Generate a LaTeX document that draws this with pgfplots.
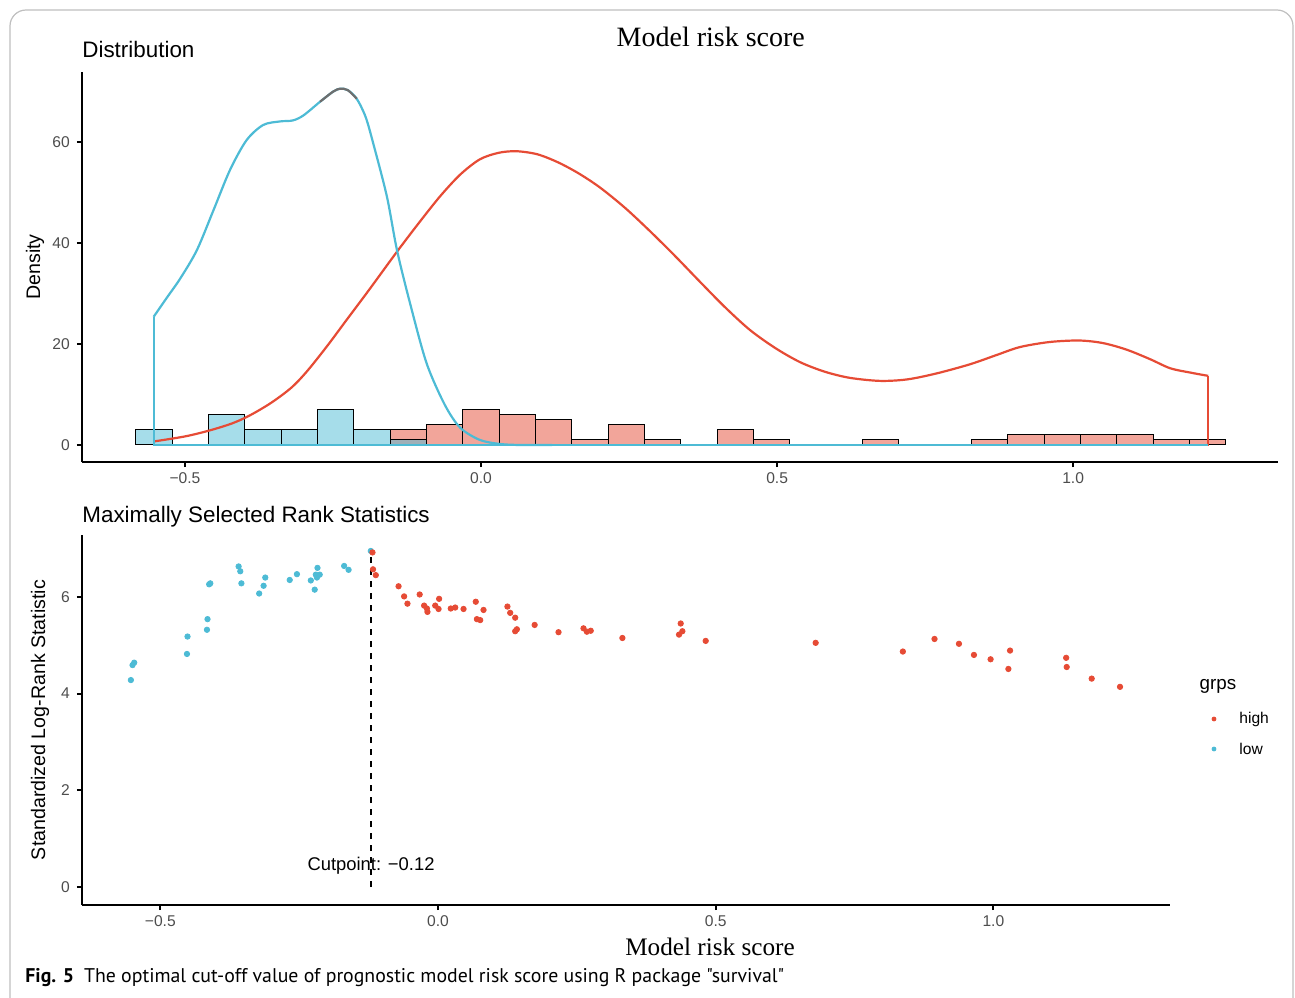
\documentclass[border=0pt]{standalone}
\usepackage{pgfplots}
\pgfplotsset{compat=1.18}
\usepackage{fontspec}
\setmainfont{Liberation Sans}
\newfontfamily\serifft{Liberation Serif}
\newfontfamily\capfont{PT Sans}
\definecolor{hired}{HTML}{E64B35}
\definecolor{lowblue}{HTML}{4DBBD5}
\definecolor{tickgrey}{HTML}{4D4D4D}
\definecolor{peakgrey}{HTML}{6E6E6E}

\pgfplotsset{
  ggclassic/.style={
    scale only axis,
    axis x line*=bottom, axis y line*=left,
    axis line style={line width=0.9bp, -},
    tick align=outside,
    major tick length=2.6bp,
    tick style={line width=0.9bp, black},
    ticklabel style={font=\fontsize{7.8bp}{9bp}\selectfont, text=tickgrey},
    /pgf/number format/assume math mode=true,
  }
}

\begin{document}
\begin{tikzpicture}
\useasboundingbox (0,0) rectangle (647.5bp,-499bp);
% rahmen
\draw[black!25, line width=0.6bp, rounded corners=8bp] (5bp,-499.5bp) -- (5bp,-5bp) -- (646.5bp,-5bp) -- (646.5bp,-499.5bp);

% ---- oben: Verteilung
\begin{axis}[ggclassic, at={(41bp,-231bp)}, anchor=south west,
    width=598bp, height=195bp,
    xmin=-0.674, xmax=1.346, ymin=-3.37, ymax=73.9,
    xtick={-0.5,0,0.5,1}, xticklabels={−0.5,0.0,0.5,1.0},
    ytick={0,20,40,60}, yticklabels={0,20,40,60},
    xticklabel style={yshift=0.8bp}]
% histogramm high
\addplot[ybar, bar width=0.06137, bar shift=0pt, draw=black, line width=0.5bp,
         fill=hired, fill opacity=0.5] coordinates {
  (-0.1227,3)(-0.0614,4)(0.0000,7)(0.0614,6)(0.1227,5)(0.1841,1)(0.2455,4)
  (0.3068,1)(0.4296,3)(0.4909,1)(0.6750,1)(0.8591,1)(0.9205,2)(0.9819,2)
  (1.0432,2)(1.1046,2)(1.1659,1)(1.2273,1)};
% histogramm low
\addplot[ybar, bar width=0.06137, bar shift=0pt, draw=black, line width=0.5bp,
         fill=lowblue, fill opacity=0.5] coordinates {
  (-0.5523,3)(-0.4296,6)(-0.3682,3)(-0.3068,3)(-0.2455,7)(-0.1841,3)(-0.1227,1)};
% dichte high
\addplot[hired, line width=1.1bp] coordinates {(1.228,13.7)(1.228,0)(-0.553,0)(-0.553,0.7)};
\addplot[hired, line width=1.1bp, smooth] coordinates {
  (-0.553,0.7)(-0.500,1.7)(-0.458,2.9)(-0.420,4.3)(-0.390,5.9)(-0.354,8.4)
  (-0.320,11.4)(-0.294,14.6)(-0.260,19.6)(-0.227,24.8)(-0.190,30.6)(-0.142,38.3)
  (-0.105,44.0)(-0.069,49.3)(-0.035,53.6)(-0.002,56.6)(0.030,57.9)(0.060,58.2)
  (0.095,57.6)(0.130,56.0)(0.165,53.8)(0.201,51.0)(0.243,47.0)(0.285,42.4)
  (0.328,37.4)(0.370,32.3)(0.412,27.3)(0.454,22.8)(0.497,19.2)(0.539,16.4)
  (0.581,14.5)(0.623,13.3)(0.674,12.7)(0.720,13.0)(0.770,14.2)(0.826,16.0)
  (0.870,17.8)(0.910,19.4)(0.960,20.4)(1.010,20.7)(1.050,20.2)(1.090,18.9)
  (1.130,17.0)(1.164,15.2)(1.200,14.3)(1.228,13.7)};
% dichte low
\addplot[lowblue, line width=1.1bp] coordinates {(-0.553,25.4)(-0.553,0)(1.228,0)};
\addplot[lowblue, line width=1.1bp, smooth] coordinates {
  (-0.553,25.4)(-0.530,29.3)(-0.508,33.0)(-0.480,38.6)(-0.452,46.5)(-0.424,54.5)
  (-0.396,60.4)(-0.368,63.4)(-0.340,64.1)(-0.318,64.3)(-0.300,65.3)(-0.272,68.0)
  (-0.250,70.0)(-0.238,70.6)(-0.225,70.3)(-0.210,68.6)(-0.195,65.0)(-0.182,59.7)
  (-0.159,49.2)(-0.142,38.6)(-0.120,28.1)(-0.092,16.2)(-0.061,7.9)(-0.035,3.4)
  (-0.002,1.0)(0.032,0.2)(0.066,0.0)(0.120,0.0)};
\addplot[peakgrey, line width=1.1bp, smooth] coordinates {
  (-0.272,68.0)(-0.250,70.0)(-0.238,70.6)(-0.225,70.3)(-0.210,68.6)};
\end{axis}

% ---- unten: rank statistik
\begin{axis}[ggclassic, at={(41bp,-452.5bp)}, anchor=south west,
    width=544bp, height=185bp,
    xmin=-0.641, xmax=1.318, ymin=-0.372, ymax=7.28,
    xtick={-0.5,0,0.5,1}, xticklabels={−0.5,0.0,0.5,1.0},
    ytick={0,2,4,6}, yticklabels={0,2,4,6},
    xticklabel style={yshift=0.8bp}]
\addplot[only marks, mark=*, mark size=1.35bp, lowblue] coordinates {
  (-0.553,4.28)(-0.550,4.59)(-0.547,4.64)(-0.452,4.82)(-0.451,5.18)(-0.416,5.32)
  (-0.415,5.54)(-0.412,6.26)(-0.410,6.28)(-0.359,6.63)(-0.356,6.53)(-0.354,6.28)
  (-0.322,6.07)(-0.314,6.23)(-0.311,6.40)(-0.267,6.35)(-0.254,6.47)(-0.229,6.34)
  (-0.222,6.15)(-0.220,6.46)(-0.217,6.60)(-0.218,6.40)(-0.213,6.46)(-0.169,6.64)
  (-0.161,6.56)(-0.121,6.95)};
\addplot[only marks, mark=*, mark size=1.35bp, hired] coordinates {
  (-0.118,6.92)(-0.117,6.57)(-0.112,6.45)(-0.071,6.22)(-0.061,6.01)(-0.055,5.86)
  (-0.033,6.05)(-0.025,5.82)(-0.020,5.76)(-0.019,5.69)(-0.005,5.82)(0.002,5.96)
  (0.001,5.75)(0.023,5.76)(0.031,5.78)(0.046,5.75)(0.068,5.90)(0.070,5.54)
  (0.076,5.52)(0.082,5.73)(0.125,5.80)(0.130,5.67)(0.139,5.57)(0.139,5.29)
  (0.142,5.33)(0.174,5.42)(0.217,5.27)(0.262,5.35)(0.268,5.28)(0.275,5.30)
  (0.332,5.15)(0.434,5.22)(0.437,5.45)(0.440,5.29)(0.482,5.09)(0.680,5.05)
  (0.837,4.87)(0.894,5.13)(0.938,5.03)(0.965,4.80)(0.995,4.71)(1.027,4.51)
  (1.030,4.89)(1.131,4.74)(1.132,4.55)(1.177,4.31)(1.228,4.14)};
\node[anchor=base, inner sep=0, font=\fontsize{9.2bp}{10bp}\selectfont] at (axis cs:-0.1206,0.337) {Cutpoint: −0.12};
\addplot[black, line width=0.9bp, dash pattern=on 3bp off 3bp] coordinates {(-0.1206,0)(-0.1206,7.0)};
\end{axis}

% titel und achsentitel
\node[anchor=base west, inner sep=0, font=\fontsize{11.2bp}{13bp}\selectfont] at (41bp,-28.9bp) {Distribution};
\node[anchor=base, inner sep=0, font=\serifft\fontsize{14bp}{16bp}\selectfont] at (355.4bp,-23.3bp) {Model risk score};
\node[anchor=base west, inner sep=0, font=\fontsize{11.2bp}{13bp}\selectfont] at (41bp,-261bp) {Maximally Selected Rank Statistics};
\node[anchor=base, inner sep=0, font=\serifft\fontsize{12.6bp}{14bp}\selectfont] at (355bp,-477.5bp) {Model risk score};
\node[rotate=90, inner sep=0, font=\fontsize{9.8bp}{11bp}\selectfont] at (17.5bp,-133.5bp) {Density};
\node[rotate=90, inner sep=0, font=\fontsize{9.8bp}{11bp}\selectfont] at (20bp,-360bp) {Standardized Log-Rank Statistic};

% legende
\node[font=\fontsize{9.4bp}{11bp}\selectfont, inner sep=0] at (609bp,-343bp) {grps};
\fill[hired] (607bp,-359.5bp) circle (1.2bp);
\fill[lowblue] (607bp,-374.5bp) circle (1.2bp);
\node[anchor=west, inner sep=0, font=\fontsize{7.8bp}{9bp}\selectfont] at (619.5bp,-359.5bp) {high};
\node[anchor=west, inner sep=0, font=\fontsize{7.8bp}{9bp}\selectfont] at (619.5bp,-374.5bp) {low};

% bildunterschrift
\node[anchor=base west, inner sep=0, font=\capfont\fontsize{9.9bp}{11bp}\selectfont] at (12.5bp,-491bp)
  {\textbf{Fig. 5}\enspace The optimal cut-off value of prognostic model risk score using R package "survival"};
\end{tikzpicture}
\end{document}
